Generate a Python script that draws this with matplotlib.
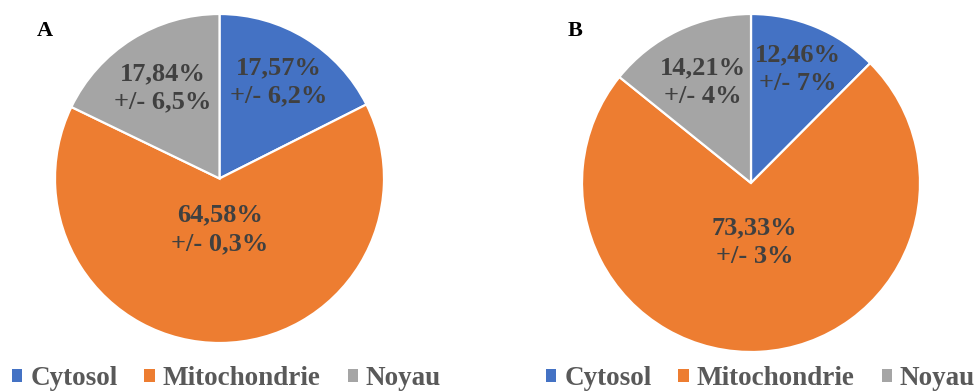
import matplotlib
matplotlib.use("Agg")
import matplotlib.pyplot as plt
import numpy as np

plt.rcParams['font.family'] = ['Liberation Serif', 'DejaVu Serif']

compartments = ['Cytosol', 'Mitochondrie', 'Noyau']
colors = ['#4472C4', '#ED7D31', '#A5A5A5']

# distribution (%) and error per compartment, panels A and B
pct_a = [17.57, 64.58, 17.84]
err_a = ['6,2', '0,3', '6,5']
pct_b = [12.46, 73.33, 14.21]
err_b = ['7', '3', '4']

# radial position of each label, as a fraction of the radius
label_r_a = [0.69, 0.31, 0.65]
label_r_b = [0.73, 0.35, 0.66]

W, H = 975, 391
fig = plt.figure(figsize=(W / 100, H / 100), dpi=100)


def draw_pie(cx, cy, r, pct, err, label_r, letter, letter_xy, leg_x):
    ax = fig.add_axes([(cx - r) / W, (H - cy - r) / H, 2 * r / W, 2 * r / H])
    wedges, _ = ax.pie(pct, colors=colors, startangle=90, counterclock=False,
                       radius=1, wedgeprops=dict(edgecolor='white', linewidth=1.6))
    ax.set_xlim(-1, 1)
    ax.set_ylim(-1, 1)
    ax.axis('off')
    for w, p, e, d in zip(wedges, pct, err, label_r):
        ang = np.deg2rad((w.theta1 + w.theta2) / 2)
        txt = f"{p:.2f}".replace('.', ',') + "%\n+/- " + e + "%"
        ax.text(d * np.cos(ang), d * np.sin(ang), txt, ha='center', va='center',
                fontsize=19, fontweight='bold', color='#404040', linespacing=1.3)
    fig.text(letter_xy[0] / W, 1 - letter_xy[1] / H, letter, ha='center', va='center',
             fontsize=16, fontweight='bold', color='black')
    leg = ax.legend(wedges, compartments, loc='upper left',
                    bbox_to_anchor=(leg_x / W, 1 - 366 / H), bbox_transform=fig.transFigure,
                    ncol=3, frameon=False, fontsize=19.5, handlelength=0.37,
                    handleheight=0.37, handletextpad=0.3, columnspacing=1.0,
                    borderpad=0, borderaxespad=0)
    for t in leg.get_texts():
        t.set_color('#595959')
        t.set_fontweight('bold')
    for h in leg.legend_handles:
        h.set_edgecolor('none')


draw_pie(219.5, 178.5, 164.5, pct_a, err_a, label_r_a, 'A', (44.5, 30.5), 12)
draw_pie(751, 183, 169, pct_b, err_b, label_r_b, 'B', (575, 30.5), 546)

fig.savefig('out.png', dpi=100)
